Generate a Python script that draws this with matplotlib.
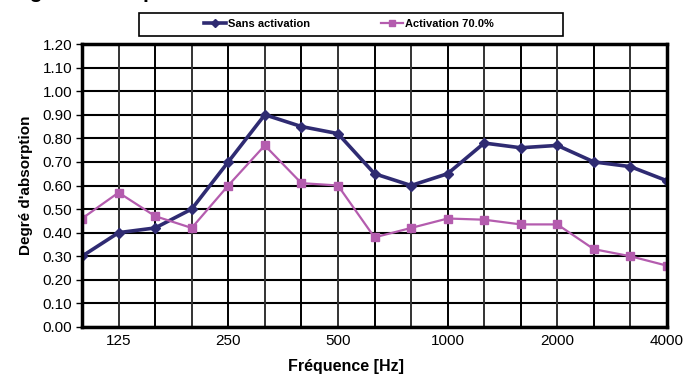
import numpy as np
import matplotlib
matplotlib.use("Agg")
import matplotlib.pyplot as plt
from matplotlib.patches import Rectangle

plt.rcParams['font.family'] = ['Liberation Sans', 'DejaVu Sans']

freqs = ["100", "125", "160", "200", "250", "315", "400", "500", "630",
         "800", "1000", "1250", "1600", "2000", "2500", "3150", "4000"]
sans_activation = [0.30, 0.40, 0.42, 0.50, 0.70, 0.90, 0.85, 0.82, 0.65,
                   0.60, 0.65, 0.78, 0.76, 0.77, 0.70, 0.68, 0.62]
activation_70 = [0.46, 0.57, 0.47, 0.42, 0.60, 0.77, 0.61, 0.60, 0.38,
                 0.42, 0.46, 0.455, 0.435, 0.435, 0.33, 0.30, 0.26]
shown_labels = ["125", "250", "500", "1000", "2000", "4000"]
y_ticks = np.arange(0, 1.21, 0.1)

W, H = 683, 377
fig = plt.figure(figsize=(W / 100, H / 100), dpi=100)
ax = fig.add_axes([82 / W, 1 - 327 / H, 585 / W, 283 / H])

x = np.arange(len(freqs))
navy = "#2F2B72"
mauve = "#B45CAE"

# grid first, data on top
for v in y_ticks:
    ax.axhline(v, color="black", lw=1.5, zorder=1)
for i in x:
    ax.axvline(i, color="black" if i % 2 == 0 else "#333333", lw=1.4, zorder=1)

l1, = ax.plot(x, sans_activation, color=navy, lw=2.6, marker="D", ms=5.5,
              label="Sans activation", zorder=3)
l2, = ax.plot(x, activation_70, color=mauve, lw=1.6, marker="s", ms=5.5,
              label="Activation 70.0%", zorder=3)

ax.set_xlim(0, len(freqs) - 1)
ax.set_ylim(0, 1.2)
ax.set_yticks(y_ticks)
ax.set_yticklabels([f"{v:.2f}" for v in y_ticks], fontsize=11)
ax.tick_params(axis="y", length=4, width=1, pad=3)

ax.set_xticks([])
for lab in shown_labels:
    ax.text(freqs.index(lab), -0.03, lab, ha="center", va="top",
            fontsize=11, clip_on=False)

for s in ax.spines.values():
    s.set_linewidth(2.5)
    s.set_zorder(4)

ax.set_ylabel("Degré d'absorption", fontsize=11, fontweight="bold", labelpad=7)
fig.text(346 / W, 1 - 367 / H, "Fréquence [Hz]", ha="center", va="center",
         fontsize=11.5, fontweight="bold")

# title cut off at the top of the image, only descenders show
fig.text(0.005, 1 + 1.5 / H, "Degré d'absorption", ha="left", va="baseline",
         fontsize=15, fontweight="bold")

# legend box
fig.patches.append(Rectangle((139 / W, 1 - 36 / H), 424 / W, 23 / H,
                             transform=fig.transFigure, fill=False,
                             edgecolor="black", lw=1.2))
leg = fig.legend(handles=[l1, l2], loc="center", ncol=2,
                 bbox_to_anchor=(349 / W, 1 - 24 / H), prop={"size": 8, "weight": "bold"},
                 frameon=False, handlelength=2.0, columnspacing=6.4,
                 borderpad=0.2, handletextpad=0.15, markerscale=0.75)

fig.savefig("out.png", dpi=100)
